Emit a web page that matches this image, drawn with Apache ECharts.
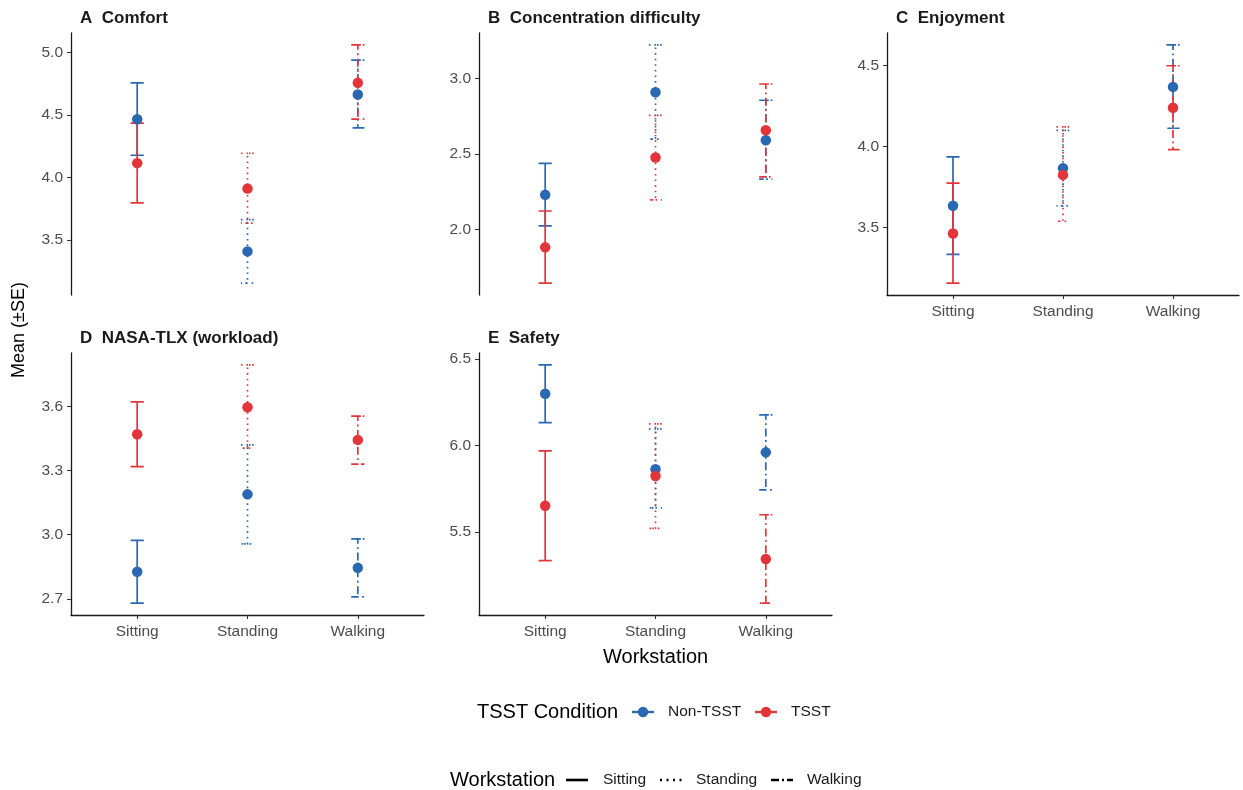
<!DOCTYPE html>
<html>
<head>
<meta charset="utf-8">
<script src="https://cdn.jsdelivr.net/npm/echarts@6/dist/echarts.min.js"></script>
<style>
  html, body { margin: 0; padding: 0; background: #fff; }
  #chart { width: 1243px; height: 790px; }
</style>
</head>
<body>
<div id="chart"></div>
<script>
// ---------- data ----------
const workstations = ['Sitting', 'Standing', 'Walking'];
const conditions = ['Non-TSST', 'TSST'];
const panelTitles = ['A  Comfort', 'B  Concentration difficulty', 'C  Enjoyment', 'D  NASA-TLX (workload)', 'E  Safety'];

// each: [Non-TSST per workstation], [TSST per workstation]
const comfortMean = [[4.466, 3.407, 4.664], [4.114, 3.910, 4.757]];
const comfortLow  = [[4.177, 3.153, 4.397], [3.796, 3.634, 4.466]];
const comfortHigh = [[4.757, 3.662, 4.939], [4.434, 4.193, 5.061]];
const comfortTicks = [3.5, 4.0, 4.5, 5.0];

const concMean = [[2.230, 2.910, 2.592], [1.882, 2.478, 2.658]];
const concLow  = [[2.024, 2.600, 2.334], [1.645, 2.197, 2.349]];
const concHigh = [[2.439, 3.224, 2.857], [2.123, 2.757, 2.965]];
const concTicks = [2.0, 2.5, 3.0];

const enjoyMean = [[3.633, 3.865, 4.369], [3.461, 3.824, 4.240]];
const enjoyLow  = [[3.332, 3.632, 4.113], [3.154, 3.537, 3.980]];
const enjoyHigh = [[3.936, 4.100, 4.629], [3.773, 4.121, 4.500]];
const enjoyTicks = [3.5, 4.0, 4.5];

const tlxMean = [[2.827, 3.189, 2.845], [3.470, 3.597, 3.444]];
const tlxLow  = [[2.680, 2.957, 2.709], [3.319, 3.405, 3.331]];
const tlxHigh = [[2.974, 3.421, 2.981], [3.622, 3.795, 3.555]];
const tlxTicks = [2.7, 3.0, 3.3, 3.6];

const safetyMean = [[6.300, 5.863, 5.961], [5.652, 5.824, 5.344]];
const safetyLow  = [[6.133, 5.640, 5.744], [5.335, 5.521, 5.089]];
const safetyHigh = [[6.467, 6.097, 6.178], [5.970, 6.126, 5.600]];
const safetyTicks = [5.5, 6.0, 6.5];

// ---------- styling ----------
const FONT = '"Liberation Sans", Arial, Helvetica, sans-serif';
const colors = ['#2A68B1', '#E3343A'];
const dashes = [null, [1.6, 4], [8, 3.5, 1.8, 3.5]];
const legendDashes = [null, [2, 4.5], [8, 3, 2, 3]];

const panels = [
  { mean: comfortMean, low: comfortLow, high: comfortHigh, ticks: comfortTicks, grid: { left: 71, top: 33, width: 353, height: 262 }, xAxis: false },
  { mean: concMean, low: concLow, high: concHigh, ticks: concTicks, grid: { left: 479, top: 33, width: 353, height: 262 }, xAxis: false },
  { mean: enjoyMean, low: enjoyLow, high: enjoyHigh, ticks: enjoyTicks, grid: { left: 887, top: 33, width: 352, height: 262 }, xAxis: true },
  { mean: tlxMean, low: tlxLow, high: tlxHigh, ticks: tlxTicks, grid: { left: 71, top: 353, width: 353, height: 262 }, xAxis: true },
  { mean: safetyMean, low: safetyLow, high: safetyHigh, ticks: safetyTicks, grid: { left: 479, top: 353, width: 353, height: 262 }, xAxis: true }
];

const grids = [], xAxes = [], yAxes = [], series = [], titles = [];

panels.forEach((p, pi) => {
  grids.push(Object.assign({ containLabel: false }, p.grid));
  const allLow = Math.min(...p.low.flat());
  const allHigh = Math.max(...p.high.flat());
  const pad = (allHigh - allLow) * 0.05;
  xAxes.push({
    gridIndex: pi, type: 'value', min: 0.4, max: 3.6,
    show: p.xAxis,
    axisLine: { show: true, lineStyle: { color: '#1a1a1a', width: 1.3 } },
    axisTick: { show: true, customValues: [1, 2, 3], length: 4, lineStyle: { color: '#333', width: 1.1 } },
    axisLabel: { customValues: [1, 2, 3], formatter: v => workstations[Math.round(v) - 1], color: '#4D4D4D', fontSize: 15.5, fontFamily: FONT, margin: 9 },
    splitLine: { show: false }
  });
  yAxes.push({
    gridIndex: pi, type: 'value', min: allLow - pad, max: allHigh + pad,
    axisLine: { show: true, lineStyle: { color: '#1a1a1a', width: 1.3 } },
    axisTick: { show: true, customValues: p.ticks, length: 4, lineStyle: { color: '#333', width: 1.1 } },
    axisLabel: { customValues: p.ticks, formatter: v => v.toFixed(1), color: '#4D4D4D', fontSize: 15.5, fontFamily: FONT, margin: 8 },
    splitLine: { show: false }
  });
  titles.push({
    text: panelTitles[pi], left: p.grid.left + 9, top: p.grid.top - 23, padding: 0,
    textStyle: { fontSize: 17, fontWeight: 'bold', color: '#1a1a1a', fontFamily: FONT }
  });
  conditions.forEach((cond, ci) => {
    const barData = workstations.map((w, wi) => [wi + 1, p.low[ci][wi], p.high[ci][wi], wi]);
    series.push({
      type: 'custom', name: cond + ' SE', xAxisIndex: pi, yAxisIndex: pi,
      data: barData, encode: { x: 0, y: [1, 2] }, silent: true, z: 2,
      renderItem: (params, api) => {
        const x = api.value(0), lo = api.value(1), hi = api.value(2), wi = api.value(3);
        const top = api.coord([x, hi]);
        const bot = api.coord([x, lo]);
        const half = api.coord([x + 0.06, hi])[0] - top[0];
        return {
          type: 'polyline',
          shape: { points: [[top[0] - half, top[1]], [top[0] + half, top[1]], [top[0], top[1]], [bot[0], bot[1]], [bot[0] - half, bot[1]], [bot[0] + half, bot[1]]] },
          style: { stroke: colors[ci], lineWidth: 1.7, fill: null, lineDash: dashes[wi] }
        };
      }
    });
  });
  conditions.forEach((cond, ci) => {
    series.push({
      type: 'scatter', name: cond, xAxisIndex: pi, yAxisIndex: pi, z: 3,
      symbol: 'circle', symbolSize: 10.5, silent: true,
      itemStyle: { color: colors[ci], opacity: 1 },
      data: workstations.map((w, wi) => [wi + 1, p.mean[ci][wi]])
    });
  });
});

// ---------- legends & axis titles as graphics ----------
const graphic = [];
graphic.push({ type: 'text', left: 603, top: 647, style: { text: 'Workstation', font: '20px ' + FONT, fill: '#000' } });
graphic.push({ type: 'text', x: 10, y: 378, rotation: Math.PI / 2, style: { text: 'Mean (±SE)', font: '18px ' + FONT, fill: '#000' } });

// condition legend
const condLegendX = [632, 755];
const condTextX = [668, 791];
graphic.push({ type: 'text', x: 477, y: 712, style: { text: 'TSST Condition', font: '20px ' + FONT, fill: '#000', verticalAlign: 'middle' } });
conditions.forEach((c, ci) => {
  const x0 = condLegendX[ci];
  graphic.push({ type: 'line', shape: { x1: x0, y1: 712, x2: x0 + 22, y2: 712 }, style: { stroke: colors[ci], lineWidth: 2.4 } });
  graphic.push({ type: 'circle', shape: { cx: x0 + 11, cy: 712, r: 5.2 }, style: { fill: colors[ci] } });
  graphic.push({ type: 'text', x: condTextX[ci], y: 712, style: { text: c, font: '15.5px ' + FONT, fill: '#1a1a1a', verticalAlign: 'middle' } });
});

// workstation legend
const wsLegendX = [566, 660, 771];
const wsTextX = [603, 696, 807];
graphic.push({ type: 'text', x: 450, y: 780, style: { text: 'Workstation', font: '20px ' + FONT, fill: '#000', verticalAlign: 'middle' } });
workstations.forEach((w, wi) => {
  const x0 = wsLegendX[wi];
  graphic.push({ type: 'line', shape: { x1: x0, y1: 780, x2: x0 + 22, y2: 780 }, style: { stroke: '#000', lineWidth: 2.6, lineDash: legendDashes[wi] } });
  graphic.push({ type: 'text', x: wsTextX[wi], y: 780, style: { text: w, font: '15.5px ' + FONT, fill: '#1a1a1a', verticalAlign: 'middle' } });
});

const chart = echarts.init(document.getElementById('chart'), null, { renderer: 'canvas' });
chart.setOption({
  backgroundColor: '#ffffff',
  animation: false,
  title: titles,
  grid: grids,
  xAxis: xAxes,
  yAxis: yAxes,
  series: series,
  graphic: graphic
});
</script>
</body>
</html>
